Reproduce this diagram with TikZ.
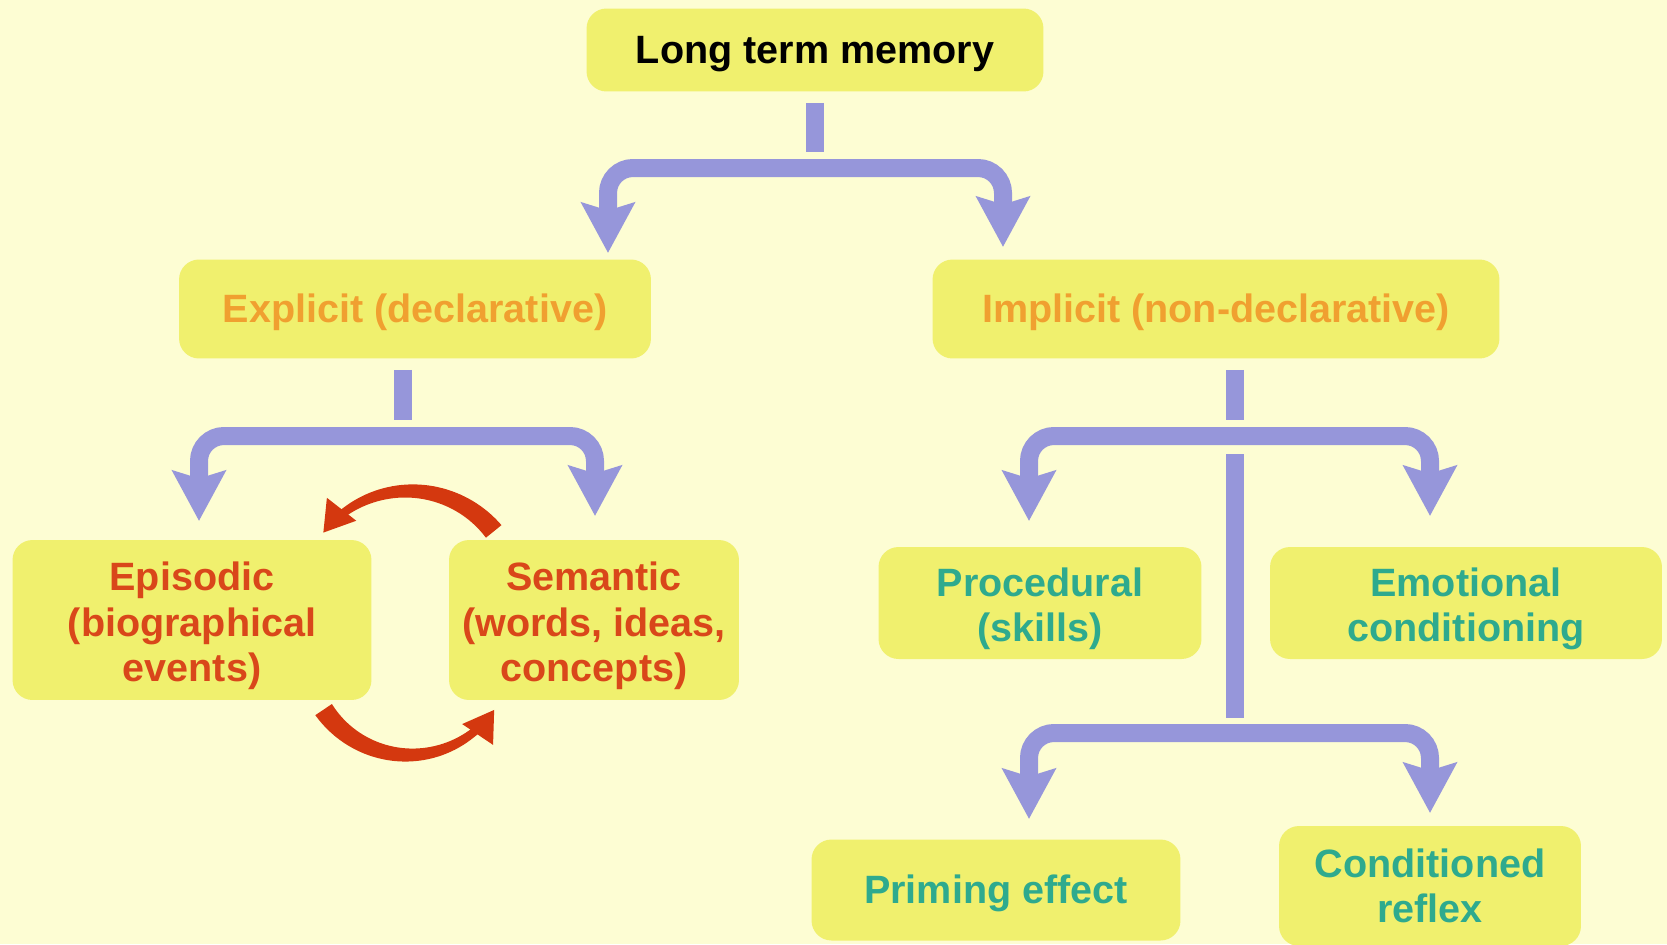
\documentclass[tikz,border=0pt]{standalone}
\usepackage{fontspec}
\setmainfont{Liberation Sans}
\usetikzlibrary{positioning,arrows.meta}

\definecolor{bgyellow}{HTML}{FDFDD3}
\definecolor{boxyellow}{HTML}{F0F06E}
\definecolor{lavender}{HTML}{9696DA}
\definecolor{orangetxt}{HTML}{F0A030}
\definecolor{redtxt}{HTML}{D9471A}
\definecolor{tealtxt}{HTML}{2EAA8E}
\definecolor{arcred}{HTML}{D4380F}

\newcommand{\boxstrut}{\rule{0pt}{23pt}}

\begin{document}
\begin{tikzpicture}[x=0.02cm, y=-0.02cm,
    box/.style = {rounded corners=0.4cm, fill=boxyellow, align=center, inner sep=0pt,
                  font=\bfseries\fontsize{22.5}{26}\selectfont,
                  execute at begin node={\rule{0pt}{20.4pt}}},
    flow/.style = {draw=lavender, line width=0.36cm},
    split/.style = {flow, rounded corners=0.5cm, <->},
    >={Stealth[length=1cm, width=1.05cm, inset=0.15cm]}]
    \fill[bgyellow] (0,0) rectangle (1667,944);
    \useasboundingbox (0,0) rectangle (1667,944);

    \node[box, minimum width=9.14cm, minimum height=1.66cm] (ltm) at (815,50) {Long term memory};
    \node[box, text=orangetxt, minimum width=9.44cm, minimum height=1.98cm] (expl) at (415,309) {Explicit (declarative)};
    \node[box, text=orangetxt, minimum width=11.34cm, minimum height=1.98cm] (impl) at (1216,309) {Implicit (non-declarative)};
    \node[box, text=redtxt, minimum width=7.18cm, minimum height=3.2cm] (epi) at (192,620) {\boxstrut Episodic\\(biographical\\events)};
    \node[box, text=redtxt, minimum width=5.8cm, minimum height=3.2cm] (sem) at (594,620) {\boxstrut Semantic\\(words, ideas,\\concepts)};
    \node[box, text=tealtxt, minimum width=6.46cm, minimum height=2.24cm] (proc) at (1040,603) {\boxstrut Procedural\\(skills)};
    \node[box, text=tealtxt, minimum width=7.84cm, minimum height=2.24cm] (emo) at (1466,603) {\boxstrut Emotional\\conditioning};
    \node[box, text=tealtxt, minimum width=7.38cm, minimum height=2.02cm] (prim) at (996,890) {Priming effect};
    \node[box, text=tealtxt, minimum width=6.04cm, minimum height=2.4cm] (cond) at (1430,886) {Conditioned\\reflex};

    % branch points and arrow ends
    \coordinate (bar1) at (815,168);
    \coordinate (bar2) at (403,436);
    \coordinate (bar3) at (1235,436);
    \coordinate (bar4) at (1235,733);
    \coordinate (t1) at (608,253);
    \coordinate (t2) at (1003,247);
    \coordinate (t3) at (199,521);
    \coordinate (t4) at (595,516);
    \coordinate (t5) at (1029,521);
    \coordinate (t6) at (1430,516);
    \coordinate (t7) at (1029,819);
    \coordinate (t8) at (1430,813);

    \draw[flow] (ltm.south) ++(0,11) -- ++(0,49);
    \draw[split] (t1) |- (bar1) -| (t2);

    \draw[flow] ([xshift=-0.24cm, yshift=-0.22cm]expl.south) -- ++(0,50);
    \draw[split] (t3) |- (bar2) -| (t4);

    \draw[flow] ([xshift=0.38cm, yshift=-0.22cm]impl.south) -- ++(0,50);
    \draw[split] (t5) |- (bar3) -| (t6);
    \draw[flow] (bar3) ++(0,18) -- ++(0,264);
    \draw[split] (t7) |- (bar4) -| (t8);

    % episodic <-> semantic
    \coordinate (c1) at (409,600);
    \coordinate (c2) at (409,652);
    \fill[arcred] plot[domain=-39:-128, variable=\t, samples=40]
        ({409+(119+6*(\t+39)/89)*cos(\t)}, {600+(119+6*(\t+39)/89)*sin(\t)})
        -- plot[domain=-128:-39, variable=\t, samples=40]
        ({409+(99-6*(\t+39)/89)*cos(\t)}, {600+(99-6*(\t+39)/89)*sin(\t)}) -- cycle;
    \draw[arcred, line width=0.16cm, -{Triangle[length=0.6cm, width=0.7cm]}]
        (c1) ++(-126:109) arc[start angle=-126, end angle=-142, radius=109];
    \fill[arcred] plot[domain=146:50, variable=\t, samples=40]
        ({409+(113-6*(146-\t)/96)*cos(\t)}, {652+(113-6*(146-\t)/96)*sin(\t)})
        -- plot[domain=50:146, variable=\t, samples=40]
        ({409+(93+6*(146-\t)/96)*cos(\t)}, {652+(93+6*(146-\t)/96)*sin(\t)}) -- cycle;
    \draw[arcred, line width=0.16cm, -{Triangle[length=0.6cm, width=0.7cm]}]
        (c2) ++(52:103) arc[start angle=52, end angle=34, radius=103];
\end{tikzpicture}
\end{document}
